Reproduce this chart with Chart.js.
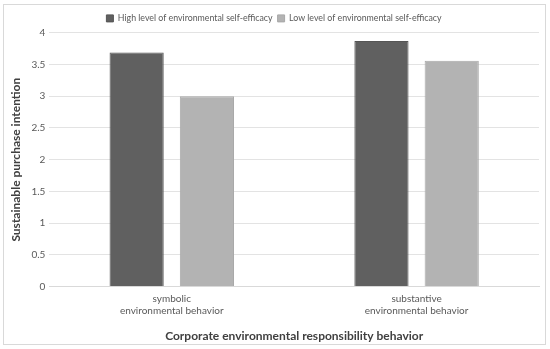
<!DOCTYPE html>
<html>
<head>
<meta charset="utf-8">
<script src="https://cdn.jsdelivr.net/npm/chart.js@4"></script>
<style>
  html, body { margin: 0; padding: 0; background: #fff; }
  #wrap { width: 550px; height: 349px; position: relative; }
</style>
</head>
<body>
<div id="wrap"><canvas id="chart"></canvas></div>
<script>
const categories = [
  ["symbolic", "environmental behavior"],
  ["substantive", "environmental behavior"]
];
const seriesNames = [
  "High level of environmental self-efficacy",
  "Low level of environmental self-efficacy"
];
const highValues = [3.69, 3.87];
const lowValues = [3.0, 3.56];
const yTicks = [0, 0.5, 1, 1.5, 2, 2.5, 3, 3.5, 4];

const FONT = "Lato, 'Open Sans', sans-serif";

// light frame round the whole chart
const framePlugin = {
  id: "frame",
  beforeDraw(chart) {
    const ctx = chart.ctx;
    ctx.save();
    ctx.strokeStyle = "#d9d9d9";
    ctx.lineWidth = 1;
    ctx.strokeRect(3.5, 4.5, 542, 340);
    ctx.restore();
  }
};

const ctx = document.getElementById("chart").getContext("2d");
new Chart(ctx, {
  type: "bar",
  data: {
    labels: categories,
    datasets: [
      {
        label: seriesNames[0],
        data: highValues,
        backgroundColor: "#606060",
        borderColor: "#555555",
        borderWidth: 1
      },
      {
        label: seriesNames[1],
        data: lowValues,
        backgroundColor: "#b3b3b3",
        borderColor: "#a8a8a8",
        borderWidth: 1
      }
    ]
  },
  options: {
    responsive: true,
    maintainAspectRatio: false,
    animation: false,
    layout: { padding: { left: 9, right: 11, top: 9, bottom: 6 } },
    plugins: {
      legend: {
        position: "top",
        labels: {
          boxWidth: 7,
          boxHeight: 7,
          padding: 5,
          color: "#595959",
          font: { family: FONT, size: 8.8 }
        }
      },
      tooltip: { enabled: false }
    },
    datasets: {
      bar: { categoryPercentage: 0.574, barPercentage: 0.771 }
    },
    scales: {
      x: {
        grid: { display: false, drawTicks: false },
        border: { color: "#d9d9d9" },
        ticks: {
          color: "#595959",
          padding: 6,
          font: { family: FONT, size: 10 }
        },
        title: {
          display: true,
          text: "Corporate environmental responsibility behavior",
          color: "#404040",
          font: { family: FONT, size: 12, weight: "bold" },
          padding: { top: 6, bottom: 0 }
        }
      },
      y: {
        min: 0,
        max: 4,
        afterBuildTicks(axis) {
          axis.ticks = yTicks.map(v => ({ value: v }));
        },
        grid: { color: "#e3e3e3", drawTicks: false },
        border: { display: false },
        ticks: {
          color: "#595959",
          padding: 4,
          font: { family: FONT, size: 10 },
          callback: v => String(v)
        },
        title: {
          display: true,
          text: "Sustainable purchase intention",
          color: "#404040",
          font: { family: FONT, size: 12, weight: "bold" },
          padding: { top: 0, bottom: 4 }
        }
      }
    }
  },
  plugins: [framePlugin]
});
</script>
</body>
</html>
